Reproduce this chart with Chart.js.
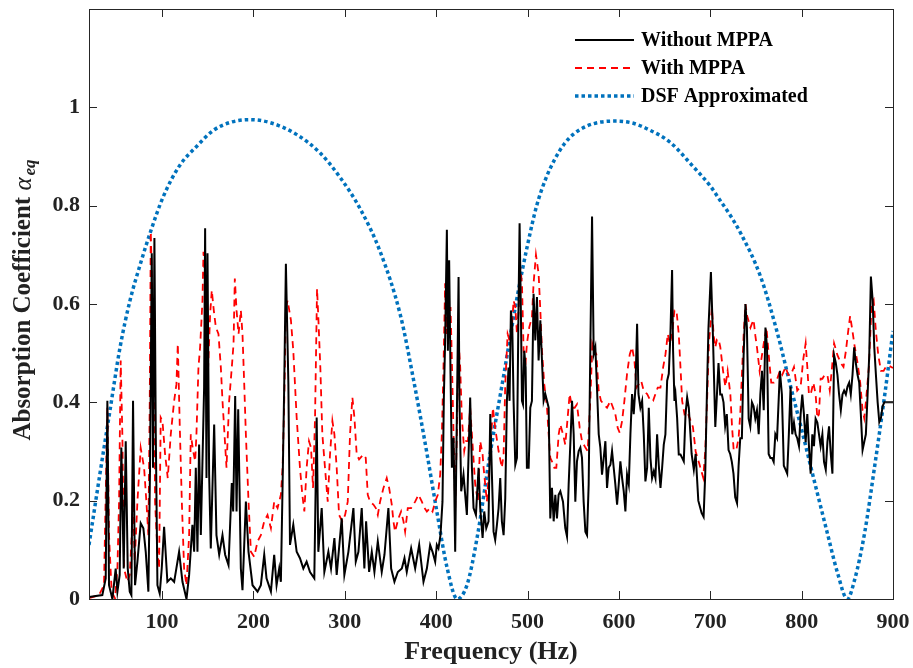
<!DOCTYPE html>
<html lang="en">
<head>
  <meta charset="UTF-8">
  <title>Absorption Coefficient vs Frequency</title>
  <script src="https://cdn.jsdelivr.net/npm/chart.js"></script>
  <style>
    body { margin: 0; background: #fff; }
    #chart { display: block; }
  </style>
</head>
<body>
<canvas id="chart" width="913" height="668"></canvas>
<script>
  // Tick labels
  const freqTicks = [100, 200, 300, 400, 500, 600, 700, 800, 900];
  const alphaTicks = [0, 0.2, 0.4, 0.6, 0.8, 1];

  // Without MPPA: [frequency (Hz), absorption coefficient]
  const withoutMPPA = [
    [20,0.004],[34.6,0.008],[38.3,0.042],[40.1,0.403],[41.9,0.028],[45.6,0],[49.2,0.062],[51.1,0.015],
    [53.6,0.049],[55.4,0.308],[58,0.062],[60.2,0.321],[62.4,0.062],[64.6,0.015],[66.4,0.008],[68.2,0.403],
    [70.4,0.028],[73,0.076],[76.6,0.154],[79.5,0.144],[82.1,0.096],[85,0.015],[86.8,0.267],[88.7,0.703],
    [90.1,0.267],[91.6,0.734],[93.1,0.335],[94.9,0.028],[97.4,0.011],[99.6,0.062],[102.2,0.147],[105.8,0.035],
    [109.5,0.042],[113.2,0.035],[118.6,0.096],[122.3,0.035],[126.7,0],[129.6,0.049],[133.2,0.151],[135.1,0.096],
    [136.9,0.267],[138.7,0.096],[140.5,0.314],[142.4,0.13],[146,0.43],[147.1,0.754],[148.6,0.246],[149.7,0.703],
    [151.5,0.253],[153.3,0.103],[157,0.355],[159.5,0.13],[162.5,0.09],[166.1,0.13],[169,0.09],[172.7,0.069],
    [176.3,0.236],[177.8,0.178],[180,0.413],[181.5,0.178],[183.3,0.386],[186.2,0.062],[188,0.018],[191.7,0.198],
    [194.6,0.096],[199,0.028],[204.5,0.015],[208.1,0.028],[211.8,0.09],[214.3,0.042],[219.1,0.015],[222.7,0.09],
    [225.3,0.028],[228.2,0.062],[230,0.035],[231.9,0.233],[233.7,0.437],[235.5,0.682],[238.2,0.44],[240,0.11],
    [243.6,0.151],[247.3,0.096],[250.9,0.083],[254.6,0.062],[258.2,0.076],[261.9,0.055],[266.6,0.042],[269.2,0.369],
    [271,0.096],[274.7,0.185],[277.6,0.055],[282,0.096],[284.9,0.062],[288.6,0.124],[291.1,0.049],[296.6,0.164],
    [299.5,0.049],[303.9,0.096],[309.4,0.185],[312,0.076],[314.9,0.096],[318.5,0.185],[321.4,0.062],[323.3,0.158],
    [326.6,0.055],[329.5,0.096],[332.4,0.055],[336.1,0.117],[340.4,0.055],[343.4,0.09],[347.7,0.185],[350.7,0.062],
    [354.3,0.035],[358,0.055],[362.4,0.062],[365.3,0.083],[367.8,0.055],[372.6,0.103],[377,0.062],[381.4,0.11],
    [386.1,0.035],[389.8,0.062],[393.4,0.11],[396,0.096],[398.9,0.076],[400.7,0.11],[402.5,0.103],[404.7,0.13],
    [406.9,0.198],[408.4,0.41],[409.8,0.526],[411.7,0.751],[412.8,0.505],[414.2,0.689],[415.7,0.458],[417.2,0.267],
    [419,0.328],[420.8,0.096],[422.6,0.369],[424.5,0.655],[425.5,0.403],[427.4,0.219],[429.9,0.253],[433.6,0.171],
    [437.2,0.41],[439.1,0.267],[440.9,0.185],[443.5,0.171],[446.4,0.267],[448.2,0.185],[450.8,0.124],[452.6,0.178],
    [454.8,0.144],[457.3,0.158],[459.2,0.376],[461,0.253],[462.8,0.137],[464.6,0.12],[466.5,0.151],[468.3,0.185],
    [470.1,0.246],[471.9,0.158],[473.8,0.13],[475.6,0.205],[477.4,0.403],[479.2,0.471],[480.3,0.403],[481.8,0.587],
    [483.3,0.553],[484.7,0.403],[486.6,0.273],[488.4,0.287],[490.2,0.607],[491.3,0.764],[492.8,0.573],[493.9,0.403],
    [495,0.396],[496.4,0.505],[497.9,0.471],[499.3,0.267],[501.2,0.267],[503,0.389],[504.8,0.403],[506.6,0.621],
    [508.5,0.526],[510.3,0.614],[512.1,0.485],[514,0.567],[515.8,0.485],[517.6,0.403],[519.4,0.417],[521.3,0.403],
    [523.1,0.389],[524.9,0.164],[526.7,0.226],[528.6,0.158],[530.4,0.212],[532.2,0.164],[534,0.212],[535.9,0.219],
    [538.8,0.198],[541.3,0.144],[543.2,0.127],[545,0.233],[546.8,0.314],[548.7,0.403],[550.5,0.335],[552.3,0.198],
    [554.1,0.28],[556,0.301],[557.8,0.308],[559.6,0.287],[561.4,0.198],[563.3,0.137],[565.1,0.13],[566.9,0.233],
    [568.7,0.505],[570.6,0.778],[572.4,0.498],[574.2,0.512],[576,0.43],[577.9,0.335],[579.7,0.308],[581.5,0.253],
    [583.4,0.287],[585.2,0.321],[587,0.226],[588.8,0.267],[590.7,0.273],[592.5,0.301],[594.3,0.267],[596.1,0.233],
    [598,0.192],[599.8,0.233],[601.6,0.28],[603.5,0.246],[605.3,0.219],[607.1,0.178],[608.9,0.253],[610.8,0.233],
    [612.6,0.335],[614.4,0.417],[616.2,0.376],[618.1,0.43],[619.9,0.56],[621.4,0.417],[623.5,0.389],[625.4,0.403],
    [627.2,0.335],[629,0.239],[630.9,0.267],[632.7,0.389],[634.5,0.287],[636.3,0.246],[638.2,0.26],[640,0.246],
    [641.8,0.335],[643.6,0.273],[645.5,0.226],[647.3,0.267],[649.1,0.314],[650.9,0.335],[652.8,0.444],[654.6,0.458],
    [656.4,0.54],[658.2,0.669],[659.3,0.505],[660.8,0.403],[661.9,0.417],[663.7,0.369],[665.5,0.294],[667.4,0.294],
    [669.2,0.287],[671,0.28],[672.9,0.376],[674.7,0.41],[676.5,0.389],[679.6,0.295],[682,0.263],[684,0.295],
    [686.9,0.2],[690.5,0.175],[692.7,0.167],[694.5,0.255],[696.3,0.416],[698,0.55],[700.7,0.665],[702.9,0.536],
    [705.5,0.35],[707.3,0.416],[709,0.48],[710.9,0.416],[712.7,0.416],[714.5,0.4],[716.3,0.352],[718.1,0.376],
    [720,0.303],[721.8,0.295],[723.6,0.279],[725.4,0.255],[727.3,0.207],[729.3,0.195],[731,0.271],[732.8,0.327],
    [734.6,0.327],[736.5,0.496],[738.5,0.6],[740.1,0.552],[742,0.367],[743.8,0.351],[745.6,0.4],[747.4,0.392],
    [749.3,0.367],[751.1,0.384],[753,0.335],[754.8,0.416],[756.6,0.464],[758.5,0.384],[760.4,0.552],[762.1,0.512],
    [763.9,0.295],[765.8,0.287],[767.6,0.287],[769.4,0.279],[771.2,0.335],[773.1,0.327],[776.2,0.464],[778.4,0.416],
    [780.5,0.271],[782.4,0.263],[784.2,0.255],[786,0.335],[787.9,0.432],[789.7,0.335],[791.6,0.359],[793.4,0.335],
    [795.2,0.327],[797.1,0.311],[798.9,0.376],[800.7,0.416],[802.5,0.376],[804.4,0.319],[806.2,0.376],[808,0.311],
    [809.9,0.255],[811.7,0.335],[813.5,0.311],[815.3,0.367],[817.2,0.359],[819,0.335],[820.8,0.311],[822.7,0.335],
    [824.5,0.279],[826.4,0.263],[828.2,0.319],[830,0.351],[831.9,0.295],[833.7,0.255],[835.5,0.496],[837.4,0.48],
    [839.2,0.456],[841,0.416],[842.9,0.384],[844.7,0.416],[846.5,0.424],[848.4,0.416],[850.2,0.432],[852,0.44],
    [853.8,0.416],[855.7,0.456],[857.5,0.512],[859.3,0.48],[861.2,0.456],[863,0.44],[864.8,0.376],[866.7,0.303],
    [868.5,0.319],[870.3,0.335],[872.2,0.416],[874,0.496],[875.8,0.656],[877.7,0.608],[879.5,0.512],[881.3,0.456],
    [883.2,0.4],[885,0.36],[886.8,0.368],[888.6,0.392],[890.5,0.4],[894,0.4],[900,0.4]
  ];

  // With MPPA
  const withMPPA = [
    [20,0.002],[31,0.008],[36.4,0.028],[40.1,0.389],[41.9,0.13],[44.8,0.015],[48.5,0.001],[51.1,0.062],
    [52.9,0.198],[54.7,0.485],[56.5,0.335],[58.4,0.062],[62,0.035],[64.6,0.049],[66.8,0.13],[68.2,0.212],
    [70,0.076],[73,0.198],[76.6,0.307],[80.3,0.267],[82.8,0.198],[85,0.13],[86.5,0.403],[87.6,0.747],
    [89.4,0.608],[91.2,0.471],[92.3,0.198],[94.9,0.096],[96.7,0.062],[98.5,0.369],[100.4,0.362],[103.3,0.294],
    [106.2,0.246],[109.5,0.335],[113.2,0.403],[115.7,0.437],[117.2,0.519],[119.4,0.348],[121.6,0.198],[124.1,0.062],
    [126.7,0.028],[129.6,0.13],[131.4,0.335],[134,0.301],[136.2,0.28],[137.6,0.335],[139.8,0.471],[141.6,0.512],
    [144.2,0.607],[145.3,0.706],[147.1,0.648],[148.6,0.43],[150.4,0.471],[152.6,0.58],[154.4,0.628],[156.6,0.587],
    [158.8,0.553],[161.7,0.539],[164.3,0.471],[166.1,0.403],[167.9,0.348],[170.5,0.267],[173.4,0.403],[176.3,0.471],
    [178.2,0.519],[179.6,0.652],[181.5,0.587],[183.7,0.539],[186.2,0.587],[188,0.539],[189.9,0.437],[191.7,0.335],
    [194.6,0.198],[197.2,0.096],[200.8,0.086],[204.5,0.117],[208.1,0.13],[211.8,0.158],[215.4,0.171],[219.1,0.144],
    [222.7,0.198],[226.4,0.185],[230,0.212],[231.9,0.267],[233.7,0.403],[235.5,0.594],[237.4,0.607],[241,0.567],
    [243.6,0.505],[247.3,0.369],[250.9,0.267],[253.5,0.212],[255.7,0.178],[258.2,0.267],[260.8,0.321],[263,0.308],
    [265.2,0.226],[267.4,0.369],[269.6,0.631],[271,0.573],[273.2,0.471],[275.4,0.335],[278.3,0.267],[281.3,0.198],
    [283.8,0.294],[286.4,0.362],[288.6,0.335],[291.1,0.267],[293.7,0.171],[297.3,0.158],[300.3,0.171],[303.2,0.198],
    [305.7,0.335],[308.3,0.41],[310.5,0.369],[313,0.294],[315.6,0.284],[320.3,0.294],[322.9,0.287],[325.1,0.212],
    [327.6,0.198],[331.3,0.192],[333.9,0.185],[336.1,0.171],[338.6,0.198],[342.3,0.226],[345.9,0.246],[348.5,0.226],
    [351.4,0.192],[353.2,0.158],[355,0.137],[358.7,0.164],[361.6,0.178],[364.2,0.158],[366,0.137],[368.9,0.185],
    [372.6,0.185],[377,0.198],[380.6,0.212],[384.3,0.198],[387.2,0.185],[389.8,0.178],[393.4,0.185],[396,0.178],
    [398.9,0.198],[401.8,0.212],[404.4,0.253],[406.2,0.335],[408,0.471],[409.8,0.642],[411.3,0.539],[412.8,0.607],
    [414.2,0.539],[415.7,0.594],[417.2,0.485],[419,0.335],[420.8,0.185],[422.6,0.335],[424.5,0.526],[426.3,0.471],
    [428.1,0.369],[430.7,0.301],[432.5,0.321],[434.7,0.321],[437.2,0.389],[439.1,0.335],[442.7,0.233],[445.6,0.198],
    [448.2,0.321],[450.8,0.294],[451.9,0.267],[455.5,0.198],[459.2,0.301],[462.1,0.389],[464.6,0.348],[468.3,0.301],
    [471.9,0.267],[473.8,0.294],[475.6,0.437],[478.2,0.539],[480.3,0.526],[482.9,0.553],[484.7,0.607],[486.6,0.594],
    [488.4,0.539],[490.2,0.587],[492,0.676],[493.9,0.642],[495.7,0.505],[497.5,0.471],[499.3,0.519],[501.9,0.553],
    [504.8,0.573],[506.6,0.642],[509.2,0.7],[512.1,0.662],[514,0.587],[515.8,0.505],[518.3,0.437],[521.3,0.389],
    [523.1,0.335],[524.9,0.287],[526.7,0.28],[529.3,0.267],[531.5,0.267],[534.1,0.335],[535.9,0.355],[538.8,0.335],
    [541.3,0.314],[543.9,0.369],[546.1,0.417],[548.7,0.389],[551.6,0.389],[554.1,0.396],[557.1,0.348],[559.6,0.321],
    [563.3,0.308],[565.8,0.301],[568.7,0.403],[570.9,0.519],[573.1,0.505],[575.3,0.498],[577.9,0.423],[580.4,0.403],
    [583.4,0.396],[587,0.389],[590.7,0.403],[593.6,0.389],[596.1,0.376],[598.7,0.348],[600.9,0.338],[603.5,0.362],
    [606,0.403],[608.9,0.458],[611.9,0.498],[614.4,0.512],[617,0.485],[619.2,0.43],[621.7,0.437],[624.3,0.444],
    [627.2,0.423],[630.9,0.417],[634.5,0.403],[637.4,0.403],[640,0.417],[642.5,0.43],[645.5,0.43],[648.4,0.471],
    [651,0.498],[653.5,0.539],[655.7,0.519],[658.2,0.539],[660.8,0.587],[663,0.587],[665.5,0.539],[667.4,0.471],
    [669.2,0.403],[671.8,0.376],[674.7,0.382],[677,0.37],[681,0.35],[684,0.3],[688,0.275],[692.3,0.247],
    [694.5,0.3],[696.8,0.42],[698.5,0.52],[701.8,0.592],[703.7,0.536],[705.5,0.512],[707.3,0.528],[709.2,0.528],
    [711,0.512],[714,0.464],[716.5,0.432],[719,0.464],[722,0.416],[723.8,0.351],[725.6,0.303],[728.5,0.303],
    [731,0.327],[732.8,0.376],[734.6,0.456],[736.5,0.536],[738.5,0.6],[740.3,0.576],[744,0.552],[745.6,0.56],
    [747.4,0.568],[749.3,0.536],[751.1,0.512],[754,0.464],[756.6,0.496],[759.2,0.528],[761.5,0.552],[764,0.496],
    [766.7,0.44],[769.6,0.44],[773.3,0.448],[776.2,0.464],[778.8,0.456],[782.4,0.472],[785.3,0.456],[788.2,0.456],
    [791.6,0.472],[795.2,0.424],[798.9,0.432],[801.8,0.488],[804.4,0.52],[806.2,0.472],[808,0.416],[809.9,0.416],
    [812.8,0.44],[815.3,0.416],[817.2,0.368],[819,0.376],[820.8,0.448],[822.7,0.448],[825.2,0.456],[828.2,0.456],
    [830.8,0.424],[833.3,0.472],[835.5,0.52],[839.2,0.496],[842.9,0.48],[845.8,0.472],[848.4,0.504],[850.9,0.544],
    [853.1,0.576],[855.7,0.544],[858.2,0.512],[861.2,0.48],[864.1,0.44],[866.7,0.384],[868.5,0.368],[870.3,0.4],
    [873.6,0.472],[876.6,0.6],[878.8,0.608],[881.3,0.544],[883.9,0.496],[886.8,0.464],[889.7,0.464],[892.2,0.472],
    [895,0.475],[900,0.47]
  ];

  // DSF approximated
  const dsfApprox = [
    [20,0.11],[32,0.255],[43,0.384],[54,0.512],[65,0.608],[76,0.68],[87,0.745],[101,0.817],
    [119,0.881],[138,0.921],[156,0.953],[174,0.969],[196,0.975],[218,0.969],[247,0.945],[273,0.907],
    [295,0.857],[317,0.793],[339,0.705],[361,0.576],[375,0.448],[390,0.295],[401,0.175],[412,0.063],
    [423,0],[434,0.03],[445,0.127],[459,0.295],[474,0.456],[488,0.608],[500,0.72],[510,0.8],
    [520,0.855],[530,0.895],[540,0.925],[550,0.945],[565,0.962],[580,0.97],[598,0.972],[615,0.968],
    [630,0.957],[656,0.929],[681,0.88],[700,0.84],[711,0.81],[722,0.78],[733,0.745],[755,0.656],
    [773,0.544],[788,0.432],[799,0.352],[814,0.239],[828,0.135],[839,0.055],[850,0],[858,0.039],
    [869,0.135],[880,0.271],[891,0.416],[900,0.545]
  ];

  const seriesNames = ['Without MPPA', 'With MPPA', 'DSF Approximated'];
  const toPoints = arr => arr.map(p => ({ x: p[0], y: p[1] }));

  const FONT = "'Liberation Serif', 'Times New Roman', serif";
  const AXIS_COLOR = '#262626';

  // Box with inward ticks on all four sides (MATLAB style)
  const boxTicks = {
    id: 'boxTicks',
    afterDraw(chart) {
      const { ctx, chartArea: a, scales: { x, y } } = chart;
      ctx.save();
      ctx.strokeStyle = AXIS_COLOR;
      ctx.lineWidth = 1;
      ctx.strokeRect(a.left + 0.5, a.top + 0.5, a.right - a.left, a.bottom - a.top);
      ctx.beginPath();
      freqTicks.forEach(v => {
        const px = Math.round(x.getPixelForValue(v)) + 0.5;
        ctx.moveTo(px, a.bottom); ctx.lineTo(px, a.bottom - 8);
        ctx.moveTo(px, a.top); ctx.lineTo(px, a.top + 8);
      });
      alphaTicks.forEach(v => {
        const py = Math.round(y.getPixelForValue(v)) + 0.5;
        ctx.moveTo(a.left, py); ctx.lineTo(a.left + 8, py);
        ctx.moveTo(a.right, py); ctx.lineTo(a.right - 8, py);
      });
      ctx.stroke();
      ctx.restore();
    }
  };

  // Y axis title with italic alpha and subscript "eq"
  const yTitle = {
    id: 'yTitle',
    afterDraw(chart) {
      const { ctx, chartArea: a } = chart;
      const main = 'Absorption Coefficient ';
      ctx.save();
      ctx.translate(24, (a.top + a.bottom) / 2 - 4);
      ctx.rotate(-Math.PI / 2);
      ctx.fillStyle = '#222';
      ctx.textBaseline = 'middle';
      ctx.textAlign = 'left';
      ctx.font = 'bold 25px ' + FONT;
      const w1 = ctx.measureText(main).width;
      ctx.font = 'italic 25px ' + FONT;
      const w2 = ctx.measureText('\u03b1').width;
      ctx.font = 'italic bold 17px ' + FONT;
      const w3 = ctx.measureText('eq').width;
      let cx = -(w1 + w2 + 2 + w3) / 2;
      ctx.font = 'bold 25px ' + FONT;
      ctx.fillText(main, cx, 0);
      cx += w1;
      ctx.font = 'italic 25px ' + FONT;
      ctx.fillText('\u03b1', cx, 0);
      cx += w2 + 2;
      ctx.font = 'italic bold 17px ' + FONT;
      ctx.fillText('eq', cx, 7);
      ctx.restore();
    }
  };

  // Legend in the upper right corner, no frame
  const cornerLegend = {
    id: 'cornerLegend',
    afterDraw(chart) {
      const { ctx } = chart;
      const rows = [40, 68, 96];
      ctx.save();
      chart.data.datasets.forEach((ds, i) => {
        ctx.beginPath();
        ctx.strokeStyle = ds.borderColor;
        ctx.lineWidth = ds.borderWidth;
        ctx.setLineDash(ds.borderDash || []);
        ctx.moveTo(575, rows[i]);
        ctx.lineTo(634, rows[i]);
        ctx.stroke();
        ctx.setLineDash([]);
        ctx.fillStyle = '#000';
        ctx.font = 'bold 20px ' + FONT;
        ctx.textBaseline = 'middle';
        ctx.fillText(ds.label, 641, rows[i] + 1);
      });
      ctx.restore();
    }
  };

  new Chart(document.getElementById('chart'), {
    type: 'line',
    data: {
      datasets: [
        { label: seriesNames[0], data: toPoints(withoutMPPA), borderColor: '#000000',
          borderWidth: 2, pointRadius: 0, tension: 0 },
        { label: seriesNames[1], data: toPoints(withMPPA), borderColor: '#ff0000',
          borderWidth: 1.8, borderDash: [7, 5], pointRadius: 0, tension: 0 },
        { label: seriesNames[2], data: toPoints(dsfApprox), borderColor: '#0072bd',
          borderWidth: 3.5, borderDash: [3.5, 3], borderCapStyle: 'butt',
          pointRadius: 0, cubicInterpolationMode: 'monotone' }
      ]
    },
    options: {
      responsive: false,
      animation: false,
      devicePixelRatio: 1,
      layout: { padding: { top: 9, right: 20, left: 0, bottom: 0 } },
      plugins: { legend: { display: false }, tooltip: { enabled: false } },
      scales: {
        x: {
          type: 'linear', min: 20, max: 900,
          afterBuildTicks: s => { s.ticks = freqTicks.map(v => ({ value: v })); },
          afterFit: s => { s.height = 69; s.paddingLeft = 0; s.paddingRight = 0; },
          grid: { display: false, drawTicks: false },
          border: { display: false },
          ticks: { color: '#222', padding: 10, maxRotation: 0, autoSkip: false,
                   font: { family: FONT, size: 22, weight: 'bold' },
                   callback: v => String(v) },
          title: { display: true, text: 'Frequency (Hz)', color: '#222',
                   padding: { top: 0, bottom: 0 },
                   font: { family: FONT, size: 26, weight: 'bold', lineHeight: 1.2 } }
        },
        y: {
          type: 'linear', min: 0, max: 1.2,
          afterBuildTicks: s => { s.ticks = alphaTicks.map(v => ({ value: v })); },
          afterFit: s => { s.width = 89; s.paddingTop = 0; s.paddingBottom = 0; },
          grid: { display: false, drawTicks: false },
          border: { display: false },
          ticks: { color: '#222', padding: 9, autoSkip: false,
                   font: { family: FONT, size: 22, weight: 'bold' },
                   callback: v => String(+v.toFixed(1)) }
        }
      }
    },
    plugins: [boxTicks, yTitle, cornerLegend]
  });
</script>
</body>
</html>
